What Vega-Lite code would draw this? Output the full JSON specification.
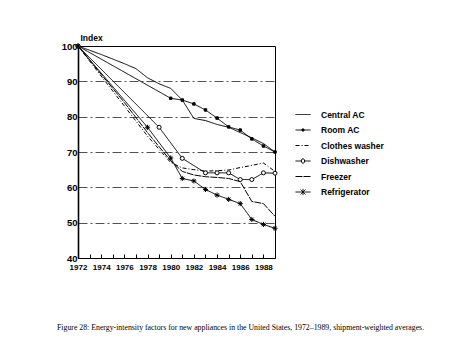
{
  "$schema": "https://vega.github.io/schema/vega-lite/v6.json",
  "width": 197,
  "height": 212,
  "autosize": "none",
  "padding": {"left": 78, "top": 46, "right": 180, "bottom": 99},
  "background": "white",
  "config": {
    "view": {"stroke": "black", "strokeWidth": 1},
    "font": "Liberation Sans"
  },
  "title": {
    "text": "Figure 28:  Energy-intensity factors for new appliances in the United States, 1972–1989, shipment-weighted averages.",
    "orient": "bottom",
    "anchor": "start",
    "frame": "group",
    "font": "Liberation Serif",
    "fontSize": 7.8,
    "fontWeight": "normal",
    "color": "black",
    "dx": -21,
    "offset": 53
  },
  "data": {
    "values": [
      {"series": "Central AC", "year": 1972, "value": 100},
      {"series": "Central AC", "year": 1973, "value": 98.8},
      {"series": "Central AC", "year": 1974, "value": 97.6},
      {"series": "Central AC", "year": 1975, "value": 96.3},
      {"series": "Central AC", "year": 1976, "value": 95},
      {"series": "Central AC", "year": 1977, "value": 93.6},
      {"series": "Central AC", "year": 1978, "value": 91},
      {"series": "Central AC", "year": 1979, "value": 89.3},
      {"series": "Central AC", "year": 1980, "value": 88},
      {"series": "Central AC", "year": 1981, "value": 84.7},
      {"series": "Central AC", "year": 1982, "value": 79.5},
      {"series": "Central AC", "year": 1983, "value": 78.9},
      {"series": "Central AC", "year": 1984, "value": 77.8},
      {"series": "Central AC", "year": 1985, "value": 77},
      {"series": "Central AC", "year": 1986, "value": 75.5},
      {"series": "Central AC", "year": 1987, "value": 74},
      {"series": "Central AC", "year": 1988, "value": 72.4},
      {"series": "Central AC", "year": 1989, "value": 70},
      {"series": "Room AC", "year": 1972, "value": 100},
      {"series": "Room AC", "year": 1980, "value": 85.2},
      {"series": "Room AC", "year": 1981, "value": 84.7},
      {"series": "Room AC", "year": 1982, "value": 83.6},
      {"series": "Room AC", "year": 1983, "value": 81.9},
      {"series": "Room AC", "year": 1984, "value": 79.6},
      {"series": "Room AC", "year": 1985, "value": 77.1},
      {"series": "Room AC", "year": 1986, "value": 76.2},
      {"series": "Room AC", "year": 1987, "value": 73.7},
      {"series": "Room AC", "year": 1988, "value": 71.7},
      {"series": "Room AC", "year": 1989, "value": 70},
      {"series": "Clothes washer", "year": 1972, "value": 100},
      {"series": "Clothes washer", "year": 1974, "value": 91.5},
      {"series": "Clothes washer", "year": 1976, "value": 83},
      {"series": "Clothes washer", "year": 1978, "value": 74.5},
      {"series": "Clothes washer", "year": 1980, "value": 67},
      {"series": "Clothes washer", "year": 1981, "value": 65.5},
      {"series": "Clothes washer", "year": 1982, "value": 65},
      {"series": "Clothes washer", "year": 1983, "value": 64.6},
      {"series": "Clothes washer", "year": 1984, "value": 64.7},
      {"series": "Clothes washer", "year": 1985, "value": 64.9},
      {"series": "Clothes washer", "year": 1986, "value": 65.6},
      {"series": "Clothes washer", "year": 1987, "value": 66.2},
      {"series": "Clothes washer", "year": 1988, "value": 66.9},
      {"series": "Clothes washer", "year": 1989, "value": 64.5},
      {"series": "Dishwasher", "year": 1972, "value": 100},
      {"series": "Dishwasher", "year": 1979, "value": 77},
      {"series": "Dishwasher", "year": 1981, "value": 68.2},
      {"series": "Dishwasher", "year": 1983, "value": 64.1},
      {"series": "Dishwasher", "year": 1984, "value": 64.1},
      {"series": "Dishwasher", "year": 1985, "value": 64.1},
      {"series": "Dishwasher", "year": 1986, "value": 62.2},
      {"series": "Dishwasher", "year": 1987, "value": 62.2},
      {"series": "Dishwasher", "year": 1988, "value": 64.1},
      {"series": "Dishwasher", "year": 1989, "value": 64},
      {"series": "Freezer", "year": 1972, "value": 100},
      {"series": "Freezer", "year": 1974, "value": 92},
      {"series": "Freezer", "year": 1976, "value": 84},
      {"series": "Freezer", "year": 1978, "value": 75.5},
      {"series": "Freezer", "year": 1980, "value": 67.5},
      {"series": "Freezer", "year": 1981, "value": 64.5},
      {"series": "Freezer", "year": 1982, "value": 63.5},
      {"series": "Freezer", "year": 1983, "value": 63},
      {"series": "Freezer", "year": 1984, "value": 62.8},
      {"series": "Freezer", "year": 1985, "value": 62.5},
      {"series": "Freezer", "year": 1986, "value": 61.6},
      {"series": "Freezer", "year": 1987, "value": 56},
      {"series": "Freezer", "year": 1988, "value": 55.4},
      {"series": "Freezer", "year": 1989, "value": 51.8},
      {"series": "Refrigerator", "year": 1972, "value": 100},
      {"series": "Refrigerator", "year": 1978, "value": 77},
      {"series": "Refrigerator", "year": 1980, "value": 68.3},
      {"series": "Refrigerator", "year": 1981, "value": 62.5},
      {"series": "Refrigerator", "year": 1982, "value": 61.8},
      {"series": "Refrigerator", "year": 1983, "value": 59.4},
      {"series": "Refrigerator", "year": 1984, "value": 57.8},
      {"series": "Refrigerator", "year": 1985, "value": 56.6},
      {"series": "Refrigerator", "year": 1986, "value": 55.4},
      {"series": "Refrigerator", "year": 1987, "value": 50.9},
      {"series": "Refrigerator", "year": 1988, "value": 49.5},
      {"series": "Refrigerator", "year": 1989, "value": 48.4}
    ]
  },
  "encoding": {
    "x": {
      "field": "year",
      "type": "quantitative",
      "scale": {"domain": [1972, 1989], "nice": false, "zero": false},
      "axis": {
        "title": null,
        "grid": false,
        "values": [1972, 1973, 1974, 1975, 1976, 1977, 1978, 1979, 1980, 1981, 1982, 1983, 1984, 1985, 1986, 1987, 1988],
        "format": "d",
        "labelExpr": "datum.value % 2 == 0 ? datum.label : ''",
        "labelFlush": false,
        "labelOverlap": false,
        "labelFont": "Liberation Sans",
        "labelFontWeight": "bold",
        "labelFontSize": 8,
        "labelColor": "black",
        "labelPadding": 9,
        "tickSize": -4,
        "tickColor": "black",
        "tickWidth": 1,
        "domainColor": "black",
        "domainWidth": 1.2
      }
    },
    "y": {
      "field": "value",
      "type": "quantitative",
      "scale": {"domain": [40, 100], "nice": false, "zero": false},
      "axis": {
        "values": [40, 50, 60, 70, 80, 90, 100],
        "grid": true,
        "gridColor": "black",
        "gridDash": [9, 3, 2, 3],
        "gridWidth": 0.8,
        "gridOpacity": 0.85,
        "ticks": false,
        "domainColor": "black",
        "domainWidth": 1.6,
        "labelFont": "Liberation Sans",
        "labelFontWeight": "bold",
        "labelFontSize": 9.5,
        "labelColor": "black",
        "labelPadding": 1,
        "labelFlush": false,
        "labelOverlap": false,
        "title": "Index",
        "titleAngle": 0,
        "titleAlign": "left",
        "titleBaseline": "bottom",
        "titleX": 2,
        "titleY": -4,
        "titleFont": "Liberation Sans",
        "titleFontSize": 8.5,
        "titleFontWeight": "bold",
        "titleColor": "black"
      }
    }
  },
  "layer": [
    {
      "mark": {"type": "line", "color": "black", "clip": true},
      "encoding": {
        "strokeDash": {
          "field": "series",
          "type": "nominal",
          "sort": ["Central AC", "Room AC", "Clothes washer", "Dishwasher", "Freezer", "Refrigerator"],
          "scale": {
            "domain": ["Central AC", "Room AC", "Clothes washer", "Dishwasher", "Freezer", "Refrigerator"],
            "range": [[1, 0], [1, 0], [4, 2, 1, 2], [1, 0], [7, 1], [1, 0]]
          },
          "legend": {
            "title": null,
            "orient": "none",
            "legendX": 217,
            "legendY": 60.5,
            "symbolSize": 225,
            "symbolStrokeColor": "black",
            "symbolStrokeWidth": 1,
            "rowPadding": 2.5,
            "labelFont": "Liberation Sans",
            "labelFontWeight": "bold",
            "labelFontSize": 8.5,
            "labelColor": "black",
            "labelOffset": 10,
            "encode": {
              "symbols": {
                "update": {
                  "shape": {"signal": "datum.value === 'Room AC' ? 'M-1,0H1M-0.13,-0.13H0.13V0.13H-0.13Z' : datum.value === 'Dishwasher' ? 'M-1,0H-0.22M0.22,0H1M-0.22,0A0.22,0.3 0 1,0 0.22,0A0.22,0.3 0 1,0 -0.22,0' : datum.value === 'Refrigerator' ? 'M-1,0H1M-0.32,-0.32L0.32,0.32M-0.32,0.32L0.32,-0.32M0,-0.42V0.42' : 'M-1,0H1'"},
                  "fill": {"signal": "datum.value === 'Room AC' ? 'black' : 'white'"},
                  "stroke": {"value": "black"}
                }
              }
            }
          }
        },
        "strokeWidth": {
          "field": "series",
          "type": "nominal",
          "scale": {
            "domain": ["Central AC", "Room AC", "Clothes washer", "Dishwasher", "Freezer", "Refrigerator"],
            "range": [1, 1, 1, 1, 1, 1.6]
          },
          "legend": null
        }
      }
    },
    {
      "transform": [{"filter": {"field": "series", "oneOf": ["Room AC", "Dishwasher", "Refrigerator"]}}],
      "mark": {"type": "point", "filled": true, "stroke": "black", "strokeWidth": 1, "opacity": 1},
      "encoding": {
        "shape": {
          "field": "series",
          "type": "nominal",
          "scale": {
            "domain": ["Room AC", "Dishwasher", "Refrigerator"],
            "range": ["square", "circle", "M-1,0H1M0,-1V1M-0.7,-0.7L0.7,0.7M-0.7,0.7L0.7,-0.7"]
          },
          "legend": null
        },
        "size": {
          "field": "series",
          "type": "nominal",
          "scale": {"domain": ["Room AC", "Dishwasher", "Refrigerator"], "range": [6, 26, 90]},
          "legend": null
        },
        "fill": {
          "field": "series",
          "type": "nominal",
          "scale": {"domain": ["Room AC", "Dishwasher", "Refrigerator"], "range": ["black", "white", "transparent"]},
          "legend": null
        }
      }
    }
  ]
}
